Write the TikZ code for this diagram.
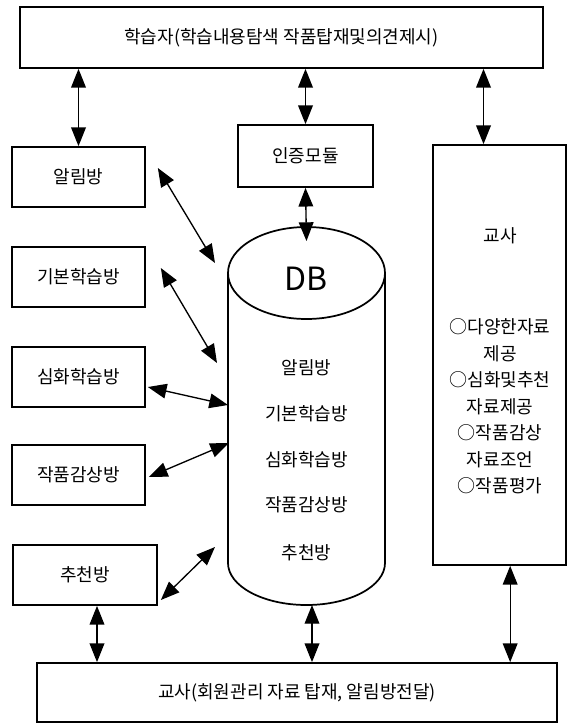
\documentclass[tikz,border=0pt]{standalone}
\usepackage{fontspec}
\newfontfamily\kr{Noto Sans CJK KR}
\usetikzlibrary{arrows.meta}
\tikzset{
  box/.style={draw, line width=1.3pt, inner sep=0pt, font=\kr\fontsize{13.5}{16}\selectfont},
  room/.style={box, minimum width=99.75pt, minimum height=45pt},
  lbl/.style={inner sep=0pt, font=\kr\fontsize{13.5}{16}\selectfont},
  lnk/.style={{Triangle[length=14pt,width=11pt]}-{Triangle[length=14pt,width=11pt]}, line width=1pt}
}
\let\rmx\undefined
\newcommand{\rmx}[3]{\node[room] (#1) at (78.5,#2) {#3};}

\begin{document}
\begin{tikzpicture}[x=0.75pt,y=-0.75pt]
  \useasboundingbox (0,0) rectangle (567,725);
  \node[box, minimum width=392pt, minimum height=45.75pt] (lrn) at (281.5,37.5) {학습자(학습내용탐색 작품탑재및의견제시)};
  \node[box, minimum width=390pt, minimum height=44.25pt] (tbot) at (297,692.5) {교사(회원관리 자료 탑재, 알림방전달)};
  \node[box, minimum width=101.25pt, minimum height=46.5pt] (auth) at (305.5,156) {인증모듈};
  \node[box, minimum width=99.75pt, minimum height=315pt] (tch) at (499.5,355) {};
  \rmx{al}{177}{알림방}
  \rmx{bas}{277}{기본학습방}
  \rmx{adv}{377}{심화학습방}
  \rmx{art}{475}{작품감상방}
  \node[room, minimum width=108pt] (rec) at (85,575) {추천방};
  % DB
  \draw[line width=1.3pt] (306.5,273) ellipse [x radius=78.5, y radius=46];
  \draw[line width=1.3pt] (228,273) -- (228,563) arc[start angle=180, end angle=0, x radius=78.5, y radius=42] -- (385,273);
  \coordinate (dbt) at (306.5,241);
  \coordinate (dbb) at (312,605);
  \coordinate (c1) at (215,263);
  \coordinate (c2) at (217,363);
  \coordinate (c3) at (228,405);
  \coordinate (c4) at (229,443);
  \coordinate (c5) at (215,547);
  \node[lbl, font=\kr\fontsize{24}{26}\selectfont] (dbn) at (306.5,279) {DB};
  \node[lbl] (m1) at (306.5,368) {알림방};
  \node[lbl] (m2) at (306.5,414) {기본학습방};
  \node[lbl] (m3) at (306.5,460) {심화학습방};
  \node[lbl] (m4) at (306.5,505) {작품감상방};
  \node[lbl] (m5) at (306.5,553) {추천방};
  \node[lbl] (tt) at (500,236) {교사};
  \node[lbl, align=center, font=\kr\fontsize{13.5}{19.9}\selectfont] (tl) at (500,406.5) {○다양한자료\\제공\\○심화및추천\\자료제공\\○작품감상\\자료조언\\○작품평가};
  % links
  \draw[lnk] (lrn.south -| al.north) -- (al.north);
  \draw[lnk] (lrn.south -| auth.north) -- (auth.north);
  \draw[lnk] ([xshift=-12pt]tch.north |- lrn.south) -- ([xshift=-12pt]tch.north);
  \draw[lnk] (auth.south) -- (dbt);
  \draw[lnk] ([shift={(12,-9)}]al.east) -- (c1);
  \draw[lnk] ([shift={(15,-9)}]bas.east) -- (c2);
  \draw[lnk] ([shift={(2,10)}]adv.east) -- (c3);
  \draw[lnk] ([shift={(3,2)}]art.east) -- (c4);
  \draw[lnk] ([shift={(3,25)}]rec.east) -- (c5);
  \draw[lnk] ([xshift=9pt]rec.south) -- ([xshift=9pt]rec.south |- tbot.north);
  \draw[lnk] (dbb) -- (dbb |- tbot.north);
  \draw[lnk] ([xshift=8pt]tch.south) -- ([xshift=8pt]tch.south |- tbot.north);
\end{tikzpicture}
\end{document}
